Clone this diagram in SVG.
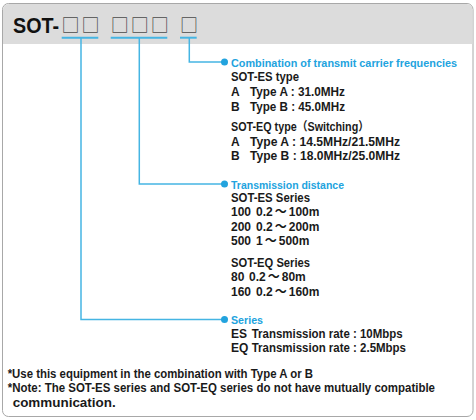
<svg xmlns="http://www.w3.org/2000/svg" width="476" height="420" viewBox="0 0 476 420">
<style>
.t{font-family:"Liberation Sans",Arial,"Noto Sans CJK JP",sans-serif;font-size:12px;font-weight:bold;fill:#1a1a1a}
.lbl{font-family:"Liberation Sans",Arial,sans-serif;font-size:11px;font-weight:bold;fill:#22a3de}
.sq{font-family:"Noto Sans CJK KR","DejaVu Sans",sans-serif;font-size:18px;fill:#4a4a4a}
.ln{fill:none;stroke:#45b5e3;stroke-width:1.5}
.ul{fill:none;stroke:#45b5e3;stroke-width:2}
.dot{fill:#22a3de}
</style>
<g id="frame">
<rect x="2.5" y="3.5" width="470.5" height="413" rx="6" fill="#ffffff" stroke="#a8a8a8" stroke-width="1"/>
<path d="M3,44 V9.5 A6,6 0 0 1 9,4 H466.5 A6,6 0 0 1 472.5,9.5 V44 Z" fill="#dcdcdc"/>
</g>
<g id="title">
<text x="13" y="32.5" style="font-family:'Liberation Sans',Arial,sans-serif;font-size:22px;font-weight:bold;fill:#111" textLength="46" lengthAdjust="spacingAndGlyphs">SOT-</text>
<text class="sq" x="70.5 90.5 119.7 139.7 159.7 189" y="32" text-anchor="middle">□□□□□□</text>
</g>
<g id="connectors">
<line class="ul" x1="61.7" y1="37.7" x2="98.3" y2="37.7"/>
<line class="ul" x1="110.7" y1="37.7" x2="167.3" y2="37.7"/>
<line class="ul" x1="180" y1="37.7" x2="196.7" y2="37.7"/>
<path class="ln" d="M81,38 V319.5 H224"/>
<path class="ln" d="M139.3,38 V184 H224"/>
<path class="ln" d="M189.3,38 V62 H224"/>
<circle class="dot" cx="224.5" cy="62" r="3.5"/>
<circle class="dot" cx="224.5" cy="184" r="3.5"/>
<circle class="dot" cx="224.5" cy="319.5" r="3.5"/>
</g>
<g id="frequencies">
<text class="lbl" x="231" y="66.5" textLength="226" lengthAdjust="spacingAndGlyphs">Combination of transmit carrier frequencies</text>
<text class="t" x="231" y="81" textLength="68" lengthAdjust="spacingAndGlyphs">SOT-ES type</text>
<text class="t" x="231" y="96">A</text>
<text class="t" x="250" y="96" textLength="95" lengthAdjust="spacingAndGlyphs">Type A : 31.0MHz</text>
<text class="t" x="231" y="110.5">B</text>
<text class="t" x="250" y="110.5" textLength="95" lengthAdjust="spacingAndGlyphs">Type B : 45.0MHz</text>
<text class="t" x="231" y="131" textLength="138" lengthAdjust="spacingAndGlyphs">SOT-EQ type（Switching）</text>
<text class="t" x="231" y="145.5">A</text>
<text class="t" x="250" y="145.5" textLength="150" lengthAdjust="spacingAndGlyphs">Type A : 14.5MHz/21.5MHz</text>
<text class="t" x="231" y="160">B</text>
<text class="t" x="250" y="160" textLength="150" lengthAdjust="spacingAndGlyphs">Type B : 18.0MHz/25.0MHz</text>
</g>
<g id="distance">
<text class="lbl" x="231" y="188.5" textLength="113" lengthAdjust="spacingAndGlyphs">Transmission distance</text>
<text class="t" x="231" y="202" textLength="79" lengthAdjust="spacingAndGlyphs">SOT-ES Series</text>
<text class="t" x="231" y="216">100</text>
<text class="t" x="256" y="216">0.2<tspan dx="2">～</tspan><tspan dx="2">100m</tspan></text>
<text class="t" x="231" y="230.7">200</text>
<text class="t" x="256" y="230.7">0.2<tspan dx="2">～</tspan><tspan dx="2">200m</tspan></text>
<text class="t" x="231" y="245.3">500</text>
<text class="t" x="256" y="245.3">1<tspan dx="2">～</tspan><tspan dx="2">500m</tspan></text>
<text class="t" x="231" y="266.7" textLength="79" lengthAdjust="spacingAndGlyphs">SOT-EQ Series</text>
<text class="t" x="231" y="281">80</text>
<text class="t" x="249" y="281">0.2<tspan dx="2">～</tspan><tspan dx="2">80m</tspan></text>
<text class="t" x="231" y="295.7">160</text>
<text class="t" x="256" y="295.7">0.2<tspan dx="2">～</tspan><tspan dx="2">160m</tspan></text>
</g>
<g id="series">
<text class="lbl" x="231" y="323.5" textLength="32" lengthAdjust="spacingAndGlyphs">Series</text>
<text class="t" x="231" y="337.5">ES</text>
<text class="t" x="251.7" y="337.5" textLength="151" lengthAdjust="spacingAndGlyphs">Transmission rate : 10Mbps</text>
<text class="t" x="231" y="352">EQ</text>
<text class="t" x="251.7" y="352" textLength="154.3" lengthAdjust="spacingAndGlyphs">Transmission rate : 2.5Mbps</text>
</g>
<g id="notes">
<text class="t" x="7.7" y="377.7" textLength="305.3" lengthAdjust="spacingAndGlyphs">*Use this equipment in the combination with Type A or B</text>
<text class="t" x="7.7" y="392.3" textLength="427.3" lengthAdjust="spacingAndGlyphs">*Note: The SOT-ES series and SOT-EQ series do not have mutually compatible</text>
<text class="t" x="12.7" y="406.7" textLength="103" lengthAdjust="spacingAndGlyphs">communication.</text>
</g>
</svg>
